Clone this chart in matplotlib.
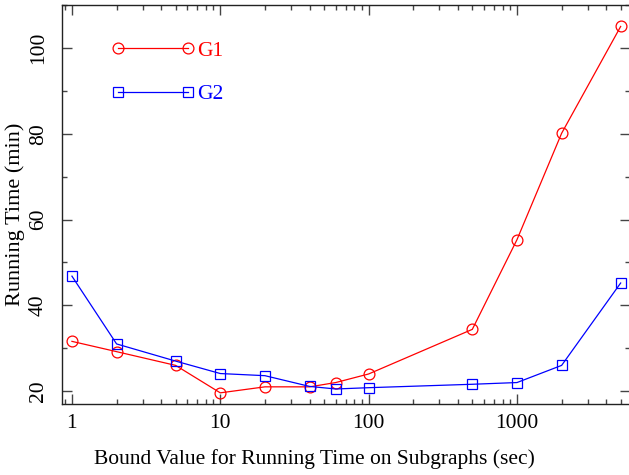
import matplotlib
matplotlib.use("Agg")
import matplotlib.pyplot as plt
from matplotlib.ticker import LogLocator, MultipleLocator, FixedLocator, NullFormatter

plt.rcParams['font.family'] = ['Liberation Serif', 'DejaVu Serif']

# Data
bounds = [1, 2, 5, 10, 20, 40, 60, 100, 500, 1000, 2000, 5000]
g1 = [31.6, 29.2, 26.0, 19.6, 21.0, 21.0, 22.0, 24.0, 34.4, 55.3, 80.1, 105.0]
g2 = [46.8, 31.0, 27.0, 24.1, 23.6, 21.1, 20.5, 20.8, 21.6, 22.0, 26.0, 45.2]
series_labels = ['G1', 'G2']
xtick_vals = [1, 10, 100, 1000]
xtick_labels = ['1', '10', '100', '1000']
ytick_vals = [20, 40, 60, 80, 100]

FS = 15.5
W, H = 629, 475
fig = plt.figure(figsize=(W / 100, H / 100), dpi=100)
ax = fig.add_axes([62 / W, 1 - 404 / H, (630 - 62) / W, (404 - 5) / H])

ax.plot(bounds, g1, color='#ff0000', lw=0.9, marker='o', ms=7.8, mfc='none',
        mec='#ff0000', mew=0.9, label=series_labels[0])
ax.plot(bounds, g2, color='#0000ff', lw=0.9, marker='s', ms=6.8, mfc='none',
        mec='#0000ff', mew=0.9, label=series_labels[1])

ax.set_xscale('log')
ax.set_xlim(0.857, 5780)
ax.set_ylim(17, 110)

ax.xaxis.set_major_locator(FixedLocator(xtick_vals))
ax.set_xticklabels(xtick_labels)
ax.xaxis.set_minor_locator(LogLocator(base=10, subs=range(2, 10), numticks=20))
ax.xaxis.set_minor_formatter(NullFormatter())
ax.yaxis.set_major_locator(FixedLocator(ytick_vals))
ax.yaxis.set_minor_locator(MultipleLocator(10))

ax.tick_params(which='both', direction='in', top=True, right=True, colors='#444444',
               labelcolor='black', width=1.0)
ax.tick_params(which='major', length=7, labelsize=FS)
ax.tick_params(which='minor', length=3.8)
ax.tick_params(axis='x', which='major', pad=7)
ax.tick_params(axis='y', which='major', pad=10)
for lab in ax.get_yticklabels():
    lab.set_rotation(90)
    lab.set_va('center')

for s in ax.spines.values():
    s.set_color('#222222')
    s.set_linewidth(1.0)

ax.set_xlabel('Bound Value for Running Time on Subgraphs (sec)', fontsize=FS, labelpad=12)
ax.set_ylabel('Running Time (min)', fontsize=16, labelpad=3)
ax.xaxis.label.set_x(0.4437)
ax.yaxis.label.set_y(0.475)

leg = ax.legend(loc='upper left', bbox_to_anchor=(0.0866, 0.911), frameon=False,
                fontsize=FS, numpoints=2, handlelength=3.86, handletextpad=0.15,
                borderpad=0, borderaxespad=0, labelspacing=1.10,
                labelcolor='linecolor')

fig.savefig('out.png', dpi=100)
